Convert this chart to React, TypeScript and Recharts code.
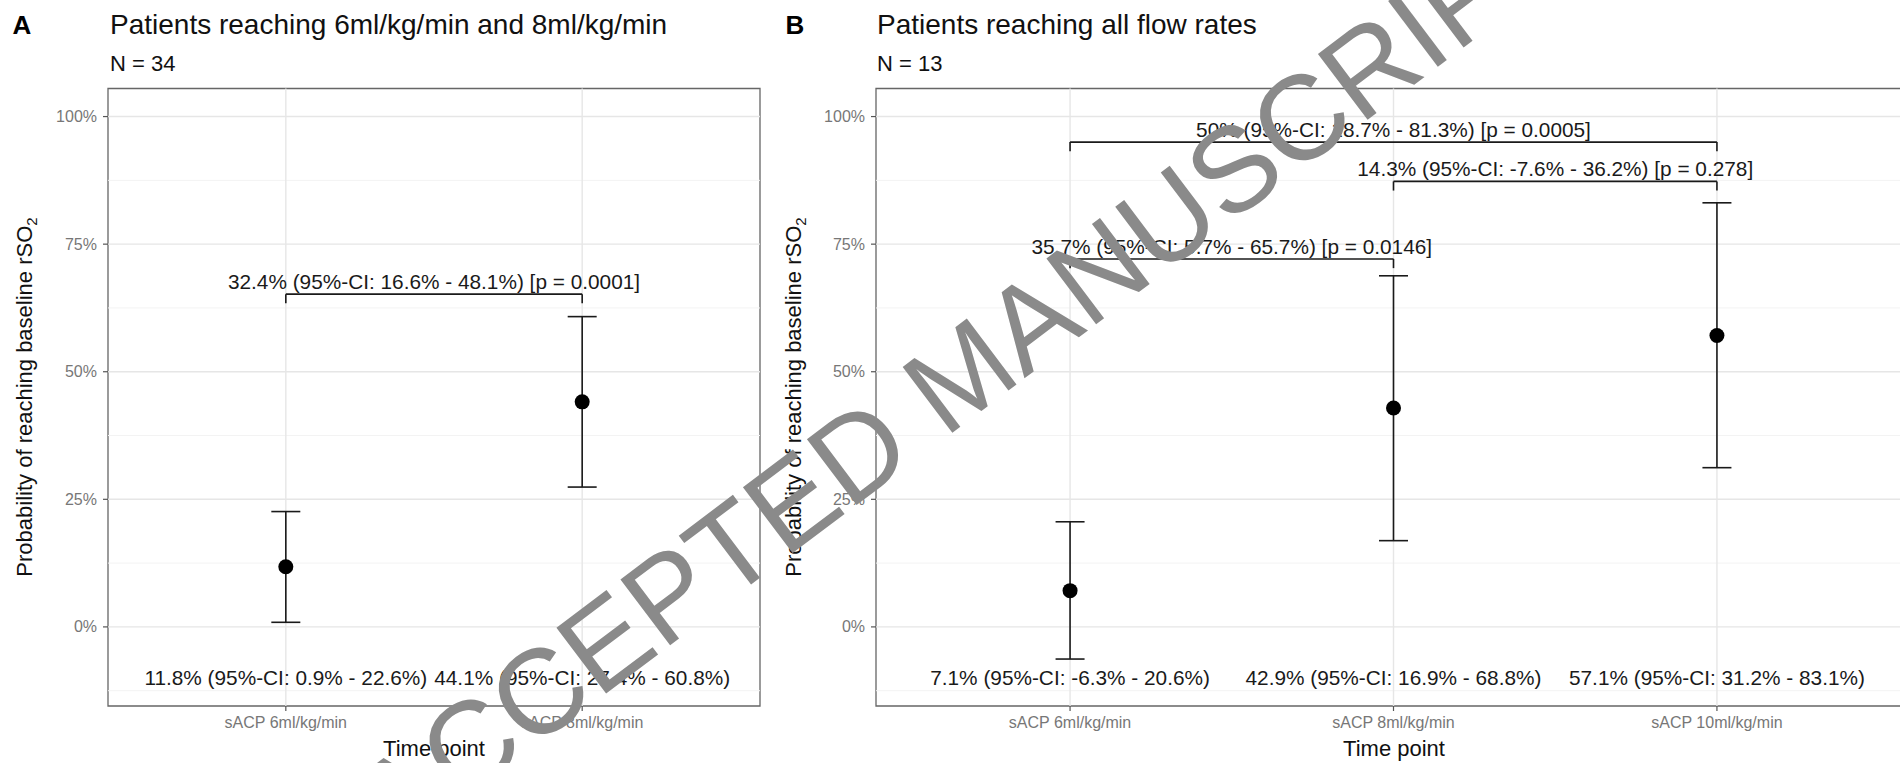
import React from 'react';
import { ScatterChart, Scatter, XAxis, YAxis, ErrorBar, ReferenceLine, ReferenceArea } from 'recharts';

const FONT = '"Liberation Sans", Arial, Helvetica, sans-serif';

// ---------- Panel A data ----------
const catsA = ['sACP 6ml/kg/min', 'sACP 8ml/kg/min'];
const estA = [11.8, 44.1];
const lowA = [0.9, 27.4];
const highA = [22.6, 60.8];
const bottomTextA = ['11.8% (95%-CI: 0.9% - 22.6%)', '44.1% (95%-CI: 27.4% - 60.8%)'];
const brFromA = [1];
const brToA = [2];
const brYA = [65.2];
const brTextA = ['32.4% (95%-CI: 16.6% - 48.1%) [p = 0.0001]'];

// ---------- Panel B data ----------
const catsB = ['sACP 6ml/kg/min', 'sACP 8ml/kg/min', 'sACP 10ml/kg/min'];
const estB = [7.1, 42.9, 57.1];
const lowB = [-6.3, 16.9, 31.2];
const highB = [20.6, 68.8, 83.1];
const bottomTextB = ['7.1% (95%-CI: -6.3% - 20.6%)', '42.9% (95%-CI: 16.9% - 68.8%)', '57.1% (95%-CI: 31.2% - 83.1%)'];
const brFromB = [1, 2, 1];
const brToB = [3, 3, 2];
const brYB = [95.0, 87.3, 72.1];
const brTextB = [
  '50% (95%-CI: 18.7% - 81.3%) [p = 0.0005]',
  '14.3% (95%-CI: -7.6% - 36.2%) [p = 0.278]',
  '35.7% (95%-CI: 5.7% - 65.7%) [p = 0.0146]',
];

// ---------- shared scale settings ----------
const yTicks = [0, 25, 50, 75, 100];
const yMinor = [-12.5, 12.5, 37.5, 62.5, 87.5];
const yDomain = [-15.5, 105.5];
const labelRowY = -10;
const tipLength = 1.8;

const INK = '#1a1a1a';

const XTick = (props: any) => {
  const { x, y, payload, cats } = props;
  return (
    <text x={x} y={y + 15} textAnchor="middle" fontSize={16} fill="#777" fontFamily={FONT}>
      {cats[Math.round(payload.value) - 1]}
    </text>
  );
};

const YTick = (props: any) => {
  const { x, y, payload } = props;
  return (
    <text x={x} y={y} dy="0.35em" textAnchor="end" fontSize={16} fill="#777" fontFamily={FONT}>
      {`${payload.value}%`}
    </text>
  );
};

const Dot = (props: any) => {
  const { cx, cy } = props;
  if (cx == null || cy == null) return null;
  return <circle cx={cx} cy={cy} r={7.5} fill="#000" />;
};

const BottomText = (props: any) => {
  const { cx, cy, payload } = props;
  return (
    <text x={cx} y={cy} dy="0.35em" textAnchor="middle" fontSize={20.8} fill={INK} fontFamily={FONT}>
      {payload.text}
    </text>
  );
};

const BracketText = (props: any) => {
  const { cx, cy, payload } = props;
  return (
    <text x={cx} y={cy - 5} textAnchor="middle" fontSize={20.8} fill={INK} fontFamily={FONT}>
      {payload.text}
    </text>
  );
};

type PanelProps = {
  cats: string[];
  est: number[];
  low: number[];
  high: number[];
  bottomText: string[];
  brFrom: number[];
  brTo: number[];
  brY: number[];
  brText: string[];
  width: number;
  yAxisWidth: number;
  rightMargin: number;
};

function Panel(p: PanelProps) {
  const n = p.cats.length;
  const xDomain = [0.4, n + 0.6];
  const pts = p.cats.map((_, i) => ({
    x: i + 1,
    y: p.est[i],
    err: [p.est[i] - p.low[i], p.high[i] - p.est[i]],
  }));
  const bottomPts = p.cats.map((_, i) => ({ x: i + 1, y: labelRowY, text: p.bottomText[i] }));
  const brPts = p.brText.map((t, i) => ({ x: (p.brFrom[i] + p.brTo[i]) / 2, y: p.brY[i], text: t }));
  const xTicks = p.cats.map((_, i) => i + 1);

  return (
    <ScatterChart
      width={p.width}
      height={763}
      margin={{ top: 88.5, right: p.rightMargin, bottom: 0, left: 0 }}
    >
      <XAxis
        type="number"
        dataKey="x"
        domain={xDomain}
        ticks={xTicks}
        interval={0}
        allowDataOverflow
        axisLine={false}
        tickLine={{ stroke: '#555', strokeWidth: 1.2 }}
        tickSize={5}
        height={57}
        tick={<XTick cats={p.cats} />}
      />
      <YAxis
        type="number"
        dataKey="y"
        domain={yDomain}
        ticks={yTicks}
        interval={0}
        allowDataOverflow
        axisLine={false}
        tickLine={{ stroke: '#555', strokeWidth: 1.2 }}
        tickSize={5}
        tickMargin={6}
        width={p.yAxisWidth}
        tick={<YTick />}
      />
      {yMinor.map((v) => (
        <ReferenceLine key={'mn' + v} y={v} stroke="#F3F3F3" strokeWidth={1} />
      ))}
      {yTicks.map((v) => (
        <ReferenceLine key={'mj' + v} y={v} stroke="#E6E6E6" strokeWidth={1.4} />
      ))}
      {xTicks.map((v) => (
        <ReferenceLine key={'vx' + v} x={v} stroke="#E6E6E6" strokeWidth={1.4} />
      ))}
      <ReferenceArea
        x1={xDomain[0]}
        x2={xDomain[1]}
        y1={yDomain[0]}
        y2={yDomain[1]}
        fill="none"
        fillOpacity={0}
        stroke="#666"
        strokeWidth={1.3}
        ifOverflow="visible"
      />
      {p.brText.map((_, i) => (
        <ReferenceLine
          key={'bh' + i}
          segment={[{ x: p.brFrom[i], y: p.brY[i] }, { x: p.brTo[i], y: p.brY[i] }]}
          stroke={INK}
          strokeWidth={1.6}
          ifOverflow="visible"
        />
      ))}
      {p.brText.map((_, i) => (
        <ReferenceLine
          key={'bl' + i}
          segment={[{ x: p.brFrom[i], y: p.brY[i] }, { x: p.brFrom[i], y: p.brY[i] - tipLength }]}
          stroke={INK}
          strokeWidth={1.6}
          ifOverflow="visible"
        />
      ))}
      {p.brText.map((_, i) => (
        <ReferenceLine
          key={'br' + i}
          segment={[{ x: p.brTo[i], y: p.brY[i] }, { x: p.brTo[i], y: p.brY[i] - tipLength }]}
          stroke={INK}
          strokeWidth={1.6}
          ifOverflow="visible"
        />
      ))}
      <Scatter data={pts} dataKey="y" isAnimationActive={false} shape={<Dot />}>
        <ErrorBar dataKey="err" direction="y" width={14.5} stroke={INK} strokeWidth={1.6} isAnimationActive={false} />
      </Scatter>
      <Scatter data={bottomPts} dataKey="y" isAnimationActive={false} shape={<BottomText />} />
      <Scatter data={brPts} dataKey="y" isAnimationActive={false} shape={<BracketText />} />
    </ScatterChart>
  );
}

export default function App() {
  return (
    <div
      style={{
        position: 'absolute',
        left: 0,
        top: 0,
        width: 1900,
        height: 763,
        overflow: 'hidden',
        background: '#fff',
      }}
    >
      <div style={{ position: 'absolute', left: 0, top: 0 }}>
        <Panel
          cats={catsA}
          est={estA}
          low={lowA}
          high={highA}
          bottomText={bottomTextA}
          brFrom={brFromA}
          brTo={brToA}
          brY={brYA}
          brText={brTextA}
          width={800}
          yAxisWidth={108}
          rightMargin={40}
        />
      </div>
      <div style={{ position: 'absolute', left: 780, top: 0 }}>
        <Panel
          cats={catsB}
          est={estB}
          low={lowB}
          high={highB}
          bottomText={bottomTextB}
          brFrom={brFromB}
          brTo={brToB}
          brY={brYB}
          brText={brTextB}
          width={1131}
          yAxisWidth={96}
          rightMargin={0}
        />
      </div>
      <svg
        width={1900}
        height={763}
        style={{ position: 'absolute', left: 0, top: 0, pointerEvents: 'none' }}
        fontFamily={FONT}
      >
        <text x={22} y={34} textAnchor="middle" fontSize={26} fontWeight="bold" fill="#000">A</text>
        <text x={110} y={34} fontSize={28} fill="#111">Patients reaching 6ml/kg/min and 8ml/kg/min</text>
        <text x={110} y={71} fontSize={22} fill="#111">N = 34</text>
        <text x={795} y={34} textAnchor="middle" fontSize={26} fontWeight="bold" fill="#000">B</text>
        <text x={877} y={34} fontSize={28} fill="#111">Patients reaching all flow rates</text>
        <text x={877} y={71} fontSize={22} fill="#111">N = 13</text>

        <text x={434} y={756} textAnchor="middle" fontSize={22} fill="#111">Time point</text>
        <text x={1394} y={756} textAnchor="middle" fontSize={22} fill="#111">Time point</text>

        <text transform="translate(32,397) rotate(-90)" textAnchor="middle" fontSize={22} fill="#111">
          Probability of reaching baseline rSO<tspan dy={5} fontSize={15}>2</tspan>
        </text>
        <text transform="translate(801,397) rotate(-90)" textAnchor="middle" fontSize={22} fill="#111">
          Probability of reaching baseline rSO<tspan dy={5} fontSize={15}>2</tspan>
        </text>

        <text transform="translate(396,852) rotate(-37)" fontSize={120} fill="#8a8a8a">
          ACCEPTED MANUSCRIPT
        </text>
      </svg>
    </div>
  );
}
